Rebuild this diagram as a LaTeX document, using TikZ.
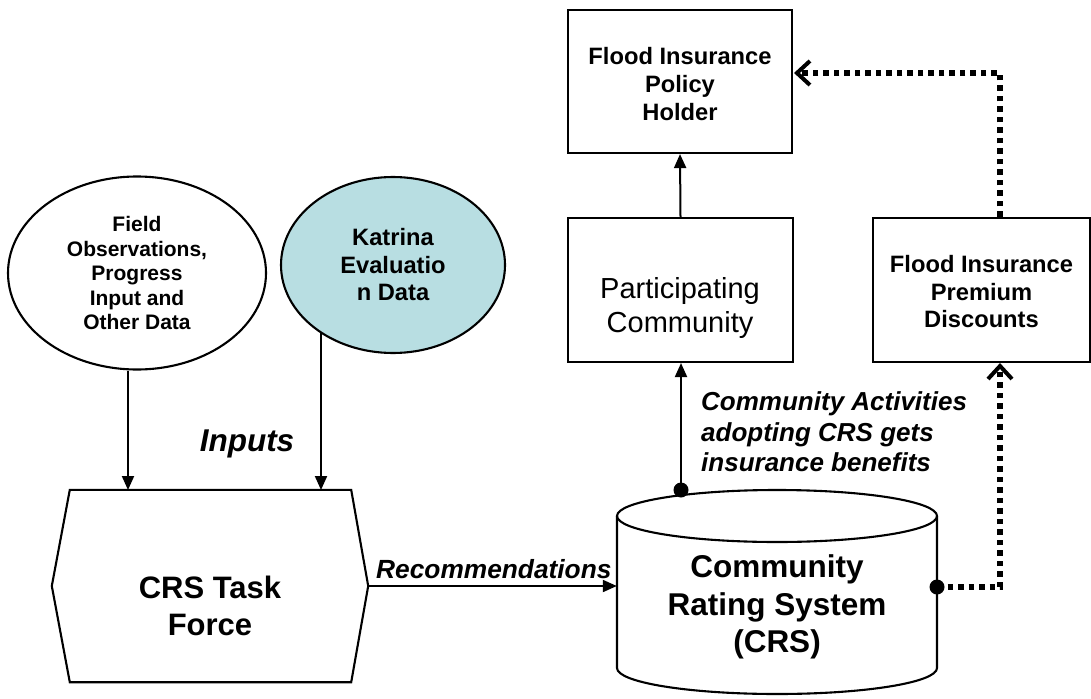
\documentclass[tikz,border=0pt]{standalone}
\usepackage{fontspec}
\setmainfont{Liberation Sans}
\usetikzlibrary{arrows.meta,calc,shapes.geometric}
\definecolor{katrina}{RGB}{184,222,226}
\tikzset{
  shapeline/.style={draw=black,line width=2.1pt},
  boxnode/.style={shapeline,rectangle,inner sep=0pt,align=center},
  ellnode/.style={shapeline,ellipse,inner sep=0pt,align=center},
  conn/.style={line width=2pt,-{Triangle[length=14pt,width=12pt]}},
  dotconn/.style={line width=5.5pt,dash pattern=on 5.5pt off 5pt,-{Straight Barb[length=13pt,width=24pt,line width=4pt]}},
  blob/.style={circle,fill=black,inner sep=0pt,minimum size=15pt},
  txt/.style={inner sep=0pt,align=center},
}
\begin{document}
\begin{tikzpicture}[x=1pt,y=-1pt]
\useasboundingbox[fill=white] (0,0) rectangle (1091,698);

% ellipses
\node[ellnode,minimum width=258pt,minimum height=193pt,font=\fontsize{21}{24.5}\selectfont\bfseries] (field) at (137,273)
  {Field\\Observations,\\Progress\\Input and\\Other Data};
\node[ellnode,fill=katrina,minimum width=224pt,minimum height=176pt,font=\fontsize{23.7}{27.5}\selectfont\bfseries] (kat) at (393,265)
  {Katrina\\Evaluatio\\n Data};

% CRS task force hexagon
\node[inner sep=0pt,minimum width=281pt,minimum height=192pt] (tf) at (210.5,586) {};
\draw[shapeline,line join=miter] (tf.north west) -- (tf.north east) -- ([xshift=17pt]tf.east) -- (tf.south east)
  -- (tf.south west) -- ([xshift=-18pt]tf.west) -- cycle;
\node[txt,font=\fontsize{31}{37}\selectfont\bfseries] (tftext) at (210,606) {CRS Task\\Force};

% cylinder
\node[inner sep=0pt,minimum width=320pt,minimum height=204pt] (crs) at (777,592) {};
\draw[shapeline] (617,516) -- (617,668) .. controls (617,682.36) and (688.6,694) .. (777,694)
  .. controls (865.4,694) and (937,682.36) .. (937,668) -- (937,516);
\draw[shapeline] (777,516) ellipse [x radius=160,y radius=26];
\node[txt,font=\fontsize{31.5}{37.5}\selectfont\bfseries] (crstext) at (777,607) {Community\\Rating System\\(CRS)};

% boxes
\node[boxnode,minimum width=224pt,minimum height=143pt] (policy) at (680,81.5) {};
\node[txt,font=\fontsize{23.7}{28}\selectfont\bfseries] (policytext) at (680,84) {Flood Insurance\\Policy\\Holder};
\node[boxnode,minimum width=225pt,minimum height=144pt] (part) at (680.5,290) {};
\node[txt,font=\fontsize{29}{34}\selectfont] (parttext) at (680,308) {Participating\\Community};
\node[boxnode,minimum width=217pt,minimum height=144pt] (prem) at (981.5,290) {};
\node[txt,font=\fontsize{23.7}{27.5}\selectfont\bfseries] (premtext) at (981.5,292) {Flood Insurance\\Premium\\Discounts};

% coordinates
\coordinate (in1) at (128,490);
\coordinate (in2) at (321,490);
\coordinate (kout) at (321,333);
\coordinate (premin) at ([xshift=18.5pt]prem.south);
\coordinate (premout) at ([xshift=18.5pt]prem.north);
\coordinate (polin) at (794,73);

% connectors
\draw[conn] (in1 |- field.south) -- (in1);
\draw[conn] (kout) -- (in2);
\draw[conn] ([xshift=17pt]tf.east) -- (crs.west |- tf.east);
\draw[conn] (part.north) -- (policy.south);
\node[blob] (d1) at (681,490) {};
\draw[conn] (d1.center) -- (d1.center |- part.south);
\node[blob] (d2) at (937,587) {};
\draw[dotconn] (d2.center) -| (premin);
\draw[dotconn] (premout) |- (polin);

% labels
\node[inner sep=0pt,anchor=base,font=\fontsize{31.5}{37}\selectfont\bfseries\itshape] (inputs) at (247,451) {Inputs};
\node[inner sep=0pt,anchor=base west,font=\fontsize{26.3}{29}\selectfont\bfseries\itshape] (recs) at (376,578) {Recommendations};
\node[inner sep=0pt,anchor=west,align=left,font=\fontsize{26}{30.5}\selectfont\bfseries\itshape] (acts) at (701,432)
  {Community Activities\\adopting CRS gets\\insurance benefits};
\end{tikzpicture}
\end{document}
